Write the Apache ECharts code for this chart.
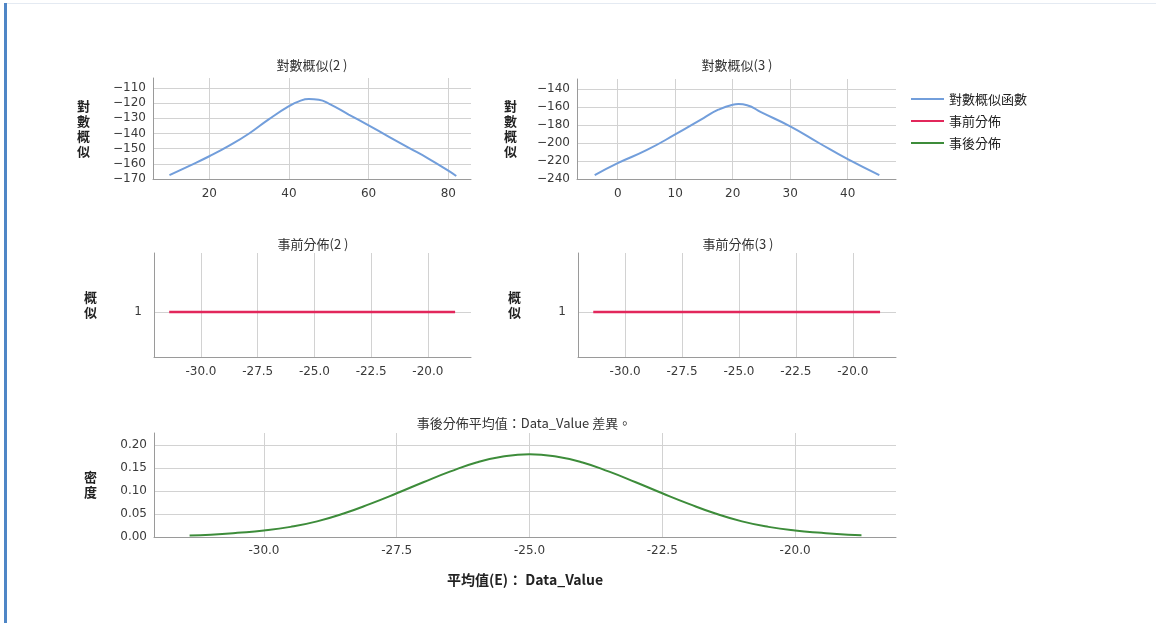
<!DOCTYPE html>
<html>
<head>
<meta charset="utf-8">
<script src="https://cdn.jsdelivr.net/npm/echarts@6/dist/echarts.min.js"></script>
<style>
html, body { margin: 0; padding: 0; background: #fff; }
#main { width: 1156px; height: 623px; }
</style>
</head>
<body>
<div id="main"></div>
<script>
// 對數概似(2)
var ll2X = [10, 15, 20, 25, 30, 35, 40, 42.5, 45, 47.5, 50, 55, 60, 65, 70, 75, 80, 82];
var ll2Y = [-167.4, -161.3, -155, -148, -140, -130.5, -122, -118.8, -117.3, -117.8, -120.3, -127.5, -134.7, -142, -149.3, -156.5, -164.5, -168];
var ll2XTicks = [20, 40, 60, 80];
var ll2YTicks = [-170, -160, -150, -140, -130, -120, -110];

// 對數概似(3)
var ll3X = [-4, 0, 5, 10, 15, 17.5, 20, 21, 22.5, 25, 30, 35, 40, 45.5];
var ll3Y = [-235.7, -222.4, -208, -190.5, -172, -163, -157.5, -156.8, -158, -166, -181.5, -200, -218, -235.6];
var ll3XTicks = [0, 10, 20, 30, 40];
var ll3YTicks = [-240, -220, -200, -180, -160, -140];

// 事前分佈
var priorX = [-31.4, -18.8];
var priorY = [1, 1];
var priorYTicks = [1];

// 事後分佈
var postX = [-31.4, -31, -30.5, -30, -29.5, -29, -28.5, -28, -27.5, -27, -26.5, -26, -25.5, -25,
	-24.5, -24, -23.5, -23, -22.5, -22, -21.5, -21, -20.5, -20, -19.5, -19, -18.75];
var postY = [0.003, 0.005, 0.009, 0.014, 0.022, 0.034, 0.051, 0.072, 0.095, 0.119, 0.142, 0.162, 0.175, 0.180,
	0.175, 0.162, 0.142, 0.119, 0.095, 0.072, 0.051, 0.034, 0.022, 0.014, 0.009, 0.005, 0.004];
var postYTicks = [0, 0.05, 0.10, 0.15, 0.20];
var meanXTicks = [-30, -27.5, -25, -22.5, -20];

var legendNames = ['對數概似函數', '事前分佈', '事後分佈'];

var FONT = '"DejaVu Sans", sans-serif';
var CJK = '"Noto Sans CJK TC", "Noto Sans CJK SC", sans-serif';
var BLUE = '#729edb';
var RED = '#e2275b';
var GREEN = '#3d8c3a';

function zip(xs, ys) {
	var t = [];
	for (var i = 0; i < xs.length; i++) {
		t.push([xs[i], ys[i]]);
	}
	return t;
}

function minus(v) {
	return String(v).replace('-', '\u2212');
}

function axis(grid, min, max, ticks, fmt, margin) {
	return {
		type: 'value',
		gridIndex: grid,
		min: min,
		max: max,
		axisLine: { show: true, onZero: false, lineStyle: { color: '#9a9a9a', width: 1 } },
		axisTick: { show: false, customValues: ticks },
		axisLabel: {
			customValues: ticks,
			formatter: fmt,
			color: '#3a3a3a',
			fontSize: 12,
			fontFamily: FONT,
			margin: margin
		},
		splitLine: { show: true, lineStyle: { color: '#d2d2d2', width: 1 } }
	};
}

function yName(a, name, gap) {
	a.name = name;
	a.nameLocation = 'middle';
	a.nameRotate = 0;
	a.nameGap = gap;
	a.nameTextStyle = { fontSize: 13, fontWeight: 'bold', color: '#222', lineHeight: 15, fontFamily: CJK };
	return a;
}

function titleText(x, y, text) {
	return {
		type: 'text',
		x: x,
		y: y,
		style: { text: text, fill: '#333', font: '13px ' + CJK, textAlign: 'center', textVerticalAlign: 'middle' }
	};
}

var fmtInt = function (v) { return minus(v); };
var fmt1 = function (v) { return v.toFixed(1); };
var fmt2 = function (v) { return v.toFixed(2); };

var chart = echarts.init(document.getElementById('main'));

var xAxes = [
	axis(0, 5.87, 85.7, ll2XTicks, fmtInt, 9),
	axis(1, -7.08, 48.4, ll3XTicks, fmtInt, 9),
	axis(2, -32.07, -18.1, meanXTicks, fmt1, 9),
	axis(3, -32.07, -18.1, meanXTicks, fmt1, 9),
	axis(4, -32.07, -18.1, meanXTicks, fmt1, 8)
];
xAxes[4].name = '平均值(E)： Data_Value';
xAxes[4].nameLocation = 'middle';
xAxes[4].nameGap = 36;
xAxes[4].nameTextStyle = { fontSize: 14, fontWeight: 'bold', color: '#222', fontFamily: CJK };

var yAxes = [
	yName(axis(0, -170, -103.4, ll2YTicks, fmtInt, 7), '對\n數\n概\n似', 63),
	yName(axis(1, -240, -128.9, ll3YTicks, fmtInt, 7), '對\n數\n概\n似', 60),
	yName(axis(2, 0, 2.31, priorYTicks, fmtInt, 12), '概\n似', 57),
	yName(axis(3, 0, 2.31, priorYTicks, fmtInt, 12), '概\n似', 57),
	yName(axis(4, 0, 0.226, postYTicks, fmt2, 7), '密\n度', 57)
];

var option = {
	backgroundColor: '#fff',
	animation: false,
	grid: [
		{ left: 153, top: 78, width: 318, height: 101 },
		{ left: 577, top: 79, width: 319, height: 100 },
		{ left: 154, top: 253, width: 317, height: 104 },
		{ left: 578, top: 253, width: 318, height: 104 },
		{ left: 154, top: 433, width: 742, height: 104 }
	],
	legend: {
		orient: 'vertical',
		left: 906,
		top: 87,
		data: legendNames,
		icon: 'rect',
		itemWidth: 33,
		itemHeight: 2,
		itemGap: 8,
		textStyle: { fontSize: 13, color: '#222', fontFamily: CJK, lineHeight: 14 }
	},
	xAxis: xAxes,
	yAxis: yAxes,
	series: [{
		name: legendNames[0],
		type: 'line',
		xAxisIndex: 0,
		yAxisIndex: 0,
		data: zip(ll2X, ll2Y),
		showSymbol: false,
		smooth: 0.5,
		color: BLUE,
		lineStyle: { color: BLUE, width: 2 }
	}, {
		name: legendNames[0],
		type: 'line',
		xAxisIndex: 1,
		yAxisIndex: 1,
		data: zip(ll3X, ll3Y),
		showSymbol: false,
		smooth: 0.5,
		color: BLUE,
		lineStyle: { color: BLUE, width: 2 }
	}, {
		name: legendNames[1],
		type: 'line',
		xAxisIndex: 2,
		yAxisIndex: 2,
		data: zip(priorX, priorY),
		showSymbol: false,
		color: RED,
		lineStyle: { color: RED, width: 2.5 }
	}, {
		name: legendNames[1],
		type: 'line',
		xAxisIndex: 3,
		yAxisIndex: 3,
		data: zip(priorX, priorY),
		showSymbol: false,
		color: RED,
		lineStyle: { color: RED, width: 2.5 }
	}, {
		name: legendNames[2],
		type: 'line',
		xAxisIndex: 4,
		yAxisIndex: 4,
		data: zip(postX, postY),
		showSymbol: false,
		smooth: 0.5,
		color: GREEN,
		lineStyle: { color: GREEN, width: 2 }
	}],
	graphic: [
		{ type: 'rect', shape: { x: 4, y: 3, width: 1152, height: 1 }, style: { fill: '#e4eaf2' } },
		{ type: 'rect', shape: { x: 4, y: 3, width: 3, height: 620 }, style: { fill: '#4f86c6' } },
		titleText(312, 65, '對數概似(2 )'),
		titleText(737, 65, '對數概似(3 )'),
		titleText(313, 244, '事前分佈(2 )'),
		titleText(738, 244, '事前分佈(3 )'),
		titleText(524, 423, '事後分佈平均值：Data_Value 差異。')
	]
};
chart.setOption(option);
</script>
</body>
</html>
